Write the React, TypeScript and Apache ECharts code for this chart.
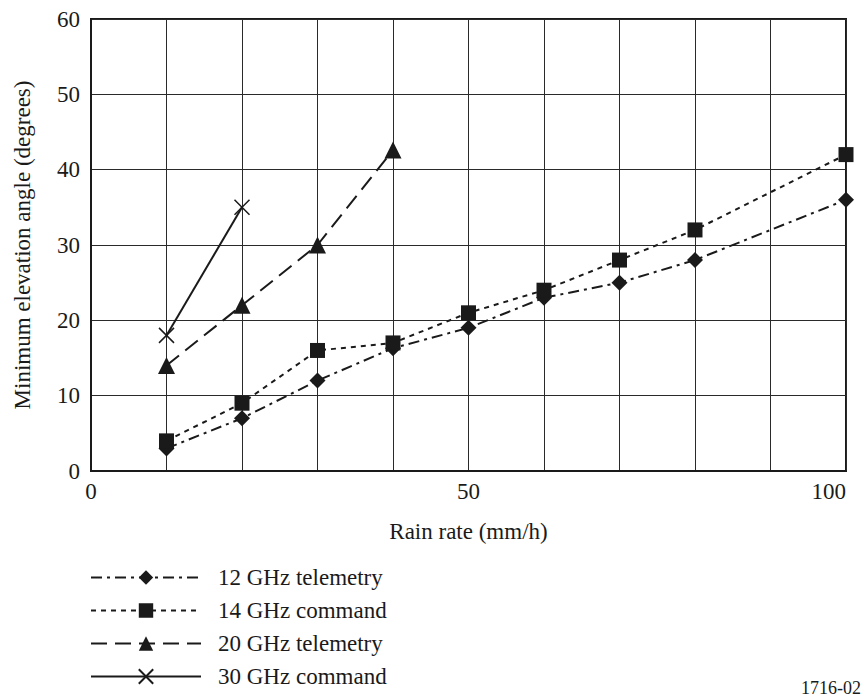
import React, { useEffect, useRef } from "react";
import * as echarts from "echarts";

const rainRates = [10, 20, 30, 40, 50, 60, 70, 80, 100];
const ghz12Telemetry = [3, 7, 12, 16.3, 19, 23, 25, 28, 36];
const ghz14Command = [4, 9, 16, 17, 21, 24, 28, 32, 42];
const ghz20Rates = [10, 20, 30, 40];
const ghz20Telemetry = [14, 22, 30, 42.6];
const ghz30Rates = [10, 20];
const ghz30Command = [18, 35];

const seriesNames = ["12 GHz telemetry", "14 GHz command", "20 GHz telemetry", "30 GHz command"];

const FONT = "Times New Roman, Liberation Serif, DejaVu Serif, serif";
const INK = "#1a1a1a";
const FS = 23;

const pair = (xs: number[], ys: number[]) => xs.map((x, i) => [x, ys[i]]);

export default function App() {
  const ref = useRef<HTMLDivElement>(null);
  useEffect(() => {
    if (!ref.current) return;
    const chart = echarts.init(ref.current, undefined, { renderer: "svg" });
    chart.setOption({
      animation: false,
      backgroundColor: "#ffffff",
      textStyle: { fontFamily: FONT },
      grid: {
        left: 91,
        right: 19,
        top: 19,
        bottom: 229,
        show: true,
        borderColor: INK,
        borderWidth: 2,
        backgroundColor: "transparent",
      },
      xAxis: {
        type: "value",
        min: 0,
        max: 100,
        interval: 10,
        name: "Rain rate (mm/h)",
        nameLocation: "middle",
        nameGap: 49,
        nameTextStyle: { fontFamily: FONT, fontSize: FS, color: INK },
        axisLine: { show: true, lineStyle: { color: INK, width: 2 } },
        axisTick: { show: false },
        splitLine: { show: true, lineStyle: { color: "#2a2a2a", width: 1 } },
        axisLabel: {
          fontFamily: FONT,
          fontSize: FS,
          color: INK,
          margin: 9,
          formatter: (v: number) => (v % 50 === 0 ? String(v) : ""),
          alignMaxLabel: "right",
        },
      },
      yAxis: {
        type: "value",
        min: 0,
        max: 60,
        interval: 10,
        name: "Minimum elevation angle (degrees)",
        nameLocation: "middle",
        nameGap: 57,
        nameTextStyle: { fontFamily: FONT, fontSize: FS, color: INK },
        axisLine: { show: true, lineStyle: { color: INK, width: 2 } },
        axisTick: { show: false },
        splitLine: { show: true, lineStyle: { color: "#2a2a2a", width: 1 } },
        axisLabel: { fontFamily: FONT, fontSize: FS, color: INK, margin: 11 },
      },
      legend: {
        orient: "vertical",
        left: 85,
        top: 561,
        height: 145,
        itemWidth: 110,
        itemHeight: 18,
        itemGap: 10,
        data: seriesNames,
        textStyle: { fontFamily: FONT, fontSize: FS, color: INK, padding: [0, 0, 0, 12] },
      },
      series: [
        {
          name: seriesNames[0],
          type: "line",
          data: pair(rainRates, ghz12Telemetry),
          symbol: "diamond",
          symbolSize: 16,
          itemStyle: { color: INK },
          lineStyle: { color: INK, width: 2, type: [11, 5, 3, 5] },
        },
        {
          name: seriesNames[1],
          type: "line",
          data: pair(rainRates, ghz14Command),
          symbol: "rect",
          symbolSize: 15,
          itemStyle: { color: INK },
          lineStyle: { color: INK, width: 2, type: [5, 5] },
        },
        {
          name: seriesNames[2],
          type: "line",
          data: pair(ghz20Rates, ghz20Telemetry),
          symbol: "triangle",
          symbolSize: 17,
          itemStyle: { color: INK },
          lineStyle: { color: INK, width: 2, type: [16, 8] },
        },
        {
          name: seriesNames[3],
          type: "line",
          data: pair(ghz30Rates, ghz30Command),
          symbol: "path://M0,0L10,10M10,0L0,10",
          symbolSize: 15,
          itemStyle: { color: "transparent", borderColor: INK, borderWidth: 1.5 },
          lineStyle: { color: INK, width: 2, type: "solid" },
        },
      ],
      graphic: [
        {
          type: "text",
          right: 4,
          top: 679,
          style: { text: "1716-02", fontFamily: FONT, fontSize: 18, fill: INK },
        },
      ],
    });
    return () => chart.dispose();
  }, []);
  return <div ref={ref} style={{ width: 865, height: 700, position: "absolute", left: 0, top: 0 }} />;
}
